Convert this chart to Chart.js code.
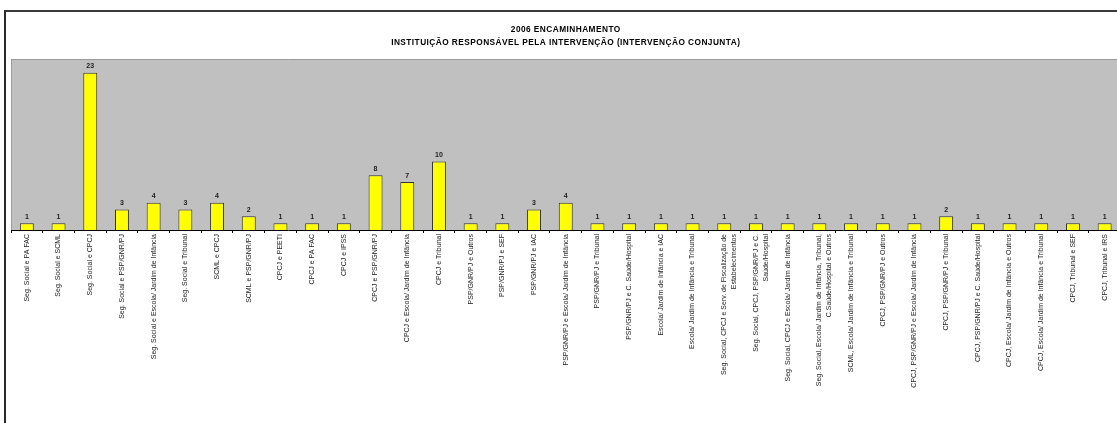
<!DOCTYPE html>
<html>
<head>
<meta charset="utf-8">
<script src="https://cdn.jsdelivr.net/npm/chart.js@4/dist/chart.umd.min.js"></script>
<style>
  html, body { margin: 0; padding: 0; background: #fff; overflow: hidden; width: 1117px; height: 423px; }
  #frame { position: absolute; left: 4px; top: 10px; width: 1200px; height: 500px;
           border-left: 2px solid #2a2a2a; border-top: 2px solid #3a3a3a; }
  #wrap { position: absolute; left: 0; top: 0; width: 1122px; height: 423px; }
</style>
</head>
<body>
<div id="frame"></div>
<div id="wrap"><canvas id="c" width="1122" height="423"></canvas></div>
<script>
const titleLines = ['2006 ENCAMINHAMENTO', 'INSTITUIÇÃO RESPONSÁVEL PELA INTERVENÇÃO (INTERVENÇÃO CONJUNTA)'];

const categories = [
  'Seg. Social e PA FAC',
  'Seg. Social e SCML',
  'Seg. Social e CPCJ',
  'Seg. Social e PSP/GNR/PJ',
  'Seg. Social e Escola/ Jardim de Infância',
  'Seg. Social e Tribunal',
  'SCML e CPCJ',
  'SCML e PSP/GNR/PJ',
  'CPCJ e PEETI',
  'CPCJ e PA FAC',
  'CPCJ e IPSS',
  'CPCJ e PSP/GNR/PJ',
  'CPCJ e Escola/ Jardim de Infância',
  'CPCJ e Tribunal',
  'PSP/GNR/PJ e Outros',
  'PSP/GNR/PJ e SEF',
  'PSP/GNR/PJ e IAC',
  'PSP/GNR/PJ e Escola/ Jardim de Infância',
  'PSP/GNR/PJ e Tribunal',
  'PSP/GNR/PJ e C. Saúde/Hospital',
  'Escola/ Jardim de Infância e IAC',
  'Escola/ Jardim de Infância e Tribunal',
  ['Seg. Social, CPCJ e Serv. de Fiscalização de', 'Estabelecimentos'],
  ['Seg. Social, CPCJ, PSP/GNR/PJ e C.', 'Saúde/Hospital'],
  'Seg. Social, CPCJ e Escola/ Jardim de Infância',
  ['Seg. Social, Escola/ Jardim de Infância, Tribunal,', 'C.Saúde/Hospital e Outros'],
  'SCML, Escola/ Jardim de Infância e Tribunal',
  'CPCJ, PSP/GNR/PJ e Outros',
  'CPCJ, PSP/GNR/PJ e Escola/ Jardim de Infância',
  'CPCJ, PSP/GNR/PJ e Tribunal',
  'CPCJ, PSP/GNR/PJ e C. Saúde/Hospital',
  'CPCJ, Escola/ Jardim de Infância e Outros',
  'CPCJ, Escola/ Jardim de Infância e Tribunal',
  'CPCJ, Tribunal e SEF',
  'CPCJ, Tribunal e IRS'
];

const values = [1, 1, 23, 3, 4, 3, 4, 2, 1, 1, 1, 8, 7, 10, 1, 1, 3, 4, 1, 1, 1, 1, 1, 1, 1, 1, 1, 1, 1, 2, 1, 1, 1, 1, 1];

const yMin = 0;
const yMax = 25;

const plotBg = {
  id: 'plotBg',
  beforeDraw(chart) {
    const { ctx, chartArea: a } = chart;
    ctx.save();
    ctx.fillStyle = '#C0C0C0';
    ctx.fillRect(a.left, a.top, a.right - a.left, a.bottom - a.top);
    ctx.strokeStyle = '#9a9a9a';
    ctx.lineWidth = 1;
    ctx.beginPath();
    ctx.moveTo(a.left, a.top + 0.5);
    ctx.lineTo(a.right, a.top + 0.5);
    ctx.moveTo(a.left + 0.5, a.top);
    ctx.lineTo(a.left + 0.5, a.bottom);
    ctx.stroke();
    ctx.restore();
  }
};

const titleDraw = {
  id: 'titleDraw',
  afterDraw(chart) {
    const { ctx, chartArea: a } = chart;
    ctx.save();
    if ('letterSpacing' in ctx) ctx.letterSpacing = '0.45px';
    ctx.font = 'bold 8.3px "Liberation Sans", Arial, sans-serif';
    ctx.fillStyle = '#000';
    ctx.textAlign = 'center';
    ctx.textBaseline = 'middle';
    const cx = (a.left + a.right) / 2;
    ctx.fillText(titleLines[0], cx, a.top - 29);
    ctx.fillText(titleLines[1], cx, a.top - 16);
    ctx.restore();
  }
};

const valueLabels = {
  id: 'valueLabels',
  afterDatasetsDraw(chart) {
    const { ctx } = chart;
    const meta = chart.getDatasetMeta(0);
    ctx.save();
    ctx.font = 'bold 7px "Liberation Sans", Arial, sans-serif';
    ctx.fillStyle = '#222';
    ctx.textAlign = 'center';
    ctx.textBaseline = 'bottom';
    meta.data.forEach((bar, i) => {
      ctx.fillText(String(values[i]), bar.x, bar.y - 3);
    });
    ctx.restore();
  }
};

new Chart(document.getElementById('c'), {
  type: 'bar',
  data: {
    labels: categories,
    datasets: [{
      data: values,
      backgroundColor: '#FFFF00',
      borderColor: '#333333',
      borderWidth: 1,
      barPercentage: 0.44,
      categoryPercentage: 1.0
    }]
  },
  options: {
    responsive: false,
    animation: false,
    devicePixelRatio: 1,
    layout: { padding: { left: 11, right: 1.5, top: 59, bottom: 0 } },
    plugins: {
      legend: { display: false },
      tooltip: { enabled: false },
      title: { display: false }
    },
    scales: {
      x: {
        offset: true,
        grid: {
          display: true,
          offset: true,
          drawOnChartArea: false,
          drawTicks: true,
          tickLength: 3,
          color: '#000'
        },
        border: { display: true, color: '#000', width: 1 },
        ticks: {
          autoSkip: false,
          maxRotation: 90,
          minRotation: 90,
          padding: 1,
          color: '#222',
          font: { family: '"Liberation Sans", Arial, sans-serif', size: 7, lineHeight: 1.45 }
        },
        afterFit(scale) { scale.height = 193; }
      },
      y: {
        display: false,
        min: yMin,
        max: yMax
      }
    }
  },
  plugins: [plotBg, valueLabels, titleDraw]
});
</script>
</body>
</html>
